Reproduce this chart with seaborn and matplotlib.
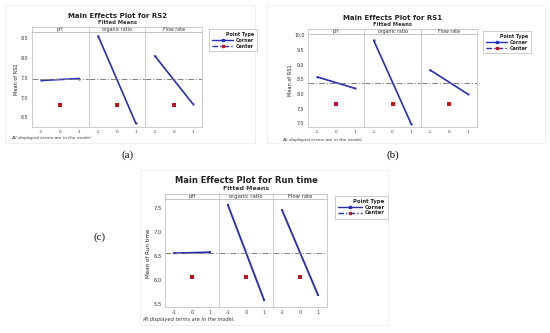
import matplotlib
matplotlib.use("Agg")
import matplotlib.pyplot as plt
from matplotlib.lines import Line2D
from matplotlib.patches import Rectangle
import seaborn as sns
import pandas as pd

sns.set_style("white")
plt.rcParams['font.family'] = ['DejaVu Sans']

# ---- data ----
factors = ["pH", "organic ratio", "Flow rate"]
levels = [-1, 1]
center_level = 0

rs2_corner = {"pH": [7.43, 7.48], "organic ratio": [8.55, 6.35], "Flow rate": [8.05, 6.85]}
rs2_center = 6.82
rs2_mean = 7.47

rs1_corner = {"pH": [8.58, 8.19], "organic ratio": [9.83, 6.97], "Flow rate": [8.82, 8.00]}
rs1_center = 7.64
rs1_mean = 8.39

rt_corner = {"pH": [6.55, 6.57], "organic ratio": [7.55, 5.58], "Flow rate": [7.45, 5.68]}
rt_center = 6.05
rt_mean = 6.56

xtick_labels = ["-1", "0", "1"]

BLUE = "#2430B8"
RED = "#C0141C"
GRAY = "#808080"

W, H = 550, 333
fig = plt.figure(figsize=(W / 100, H / 100), dpi=100)
fig.patch.set_facecolor("white")


def fx(x):
    return x / W


def fy(y):
    return 1 - y / H


def panel(box, left, right, top, bottom, strip, title, title_fs, ylabel, corner, center, mean,
          ylim, yticks, legend_box, footnote_xy, ylabel_x, sc=1.0):
    bx0, by0, bx1, by1 = box
    fig.patches.append(Rectangle((fx(bx0), fy(by1)), fx(bx1 - bx0), (by1 - by0) / H,
                                 transform=fig.transFigure, fill=False,
                                 edgecolor="#ededed", lw=0.6))
    cx = (left + right) / 2
    fig.text(fx(cx), fy(top - strip - title_fs * 2.3), title, ha="center", va="center",
             fontsize=title_fs, fontweight="bold", color="#222222")
    fig.text(fx(cx), fy(top - strip - title_fs * 0.95), "Fitted Means", ha="center", va="center",
             fontsize=title_fs * 0.75, fontweight="bold", color="#333333")
    pw = (right - left) / 3
    for i, f in enumerate(factors):
        x0 = left + i * pw
        ax = fig.add_axes([fx(x0), fy(bottom), fx(pw), (bottom - top) / H])
        df = pd.DataFrame({"level": levels, "mean": corner[f]})
        sns.lineplot(data=df, x="level", y="mean", ax=ax, color=BLUE, lw=1.2 * sc,
                     marker="s", markersize=1.4 * sc, markeredgewidth=0)
        sns.scatterplot(x=[center_level], y=[center], ax=ax, color=RED, marker="s",
                        s=5.5 * sc, linewidth=0)
        ax.axhline(mean, color=GRAY, lw=0.7, ls=(0, (6, 2, 1, 2)))
        ax.set_xlim(-1.5, 1.5)
        ax.set_ylim(*ylim)
        ax.set_xticks([-1, 0, 1])
        ax.set_xticklabels(xtick_labels, fontsize=3.2 * sc, color="#333333")
        ax.set_yticks(yticks)
        ax.set_xlabel("")
        ax.set_ylabel("")
        ax.tick_params(length=1, width=0.4, pad=1.5, colors="#444444")
        if i == 0:
            ax.set_yticklabels([f"{v:.1f}" for v in yticks], fontsize=3.4 * sc, color="#333333")
        else:
            ax.set_yticklabels([])
            ax.tick_params(axis="y", length=0)
        for s in ax.spines.values():
            s.set_color("#c4c4c4")
            s.set_linewidth(0.6)
        sax = fig.add_axes([fx(x0), fy(top), fx(pw), strip / H])
        sax.set_xticks([])
        sax.set_yticks([])
        sax.set_facecolor("white")
        for s in sax.spines.values():
            s.set_color("#c4c4c4")
            s.set_linewidth(0.6)
        sax.text(0.5, 0.5, f, ha="center", va="center", fontsize=3.4 * sc, color="#333333",
                 transform=sax.transAxes)
    fig.text(fx(ylabel_x), fy((top + bottom) / 2), ylabel, rotation=90, ha="center",
             va="center", fontsize=3.6 * sc, color="#222222")
    fig.text(fx(footnote_xy[0]), fy(footnote_xy[1]), "All displayed terms are in the model.",
             fontsize=3.2 * sc, style="italic", color="#333333", va="center")
    handles = [Line2D([], [], color=BLUE, lw=1.0, marker="s", markersize=1.5,
                      label="Corner"),
               Line2D([], [], color=BLUE, lw=1.0, ls=(0, (4, 1.5, 1, 1.5)), marker="s",
                      markersize=2, markerfacecolor=RED, markeredgecolor=RED, label="Center")]
    lx, ly = legend_box
    leg = fig.legend(handles=handles, title="Point Type", loc="upper left",
                     bbox_to_anchor=(fx(lx), fy(ly)), fontsize=3.4 * sc, title_fontsize=3.4 * sc,
                     frameon=True, fancybox=False, edgecolor="#c4c4c4", framealpha=1,
                     handlelength=4.5, borderpad=0.6, labelspacing=0.15, handletextpad=0.5,
                     alignment="right")
    leg.get_frame().set_linewidth(0.6)
    leg.get_title().set_fontweight("bold")
    leg.get_title().set_color("#222222")
    for t in leg.get_texts():
        t.set_fontweight("bold")
        t.set_color("#222222")


panel((5, 5, 255, 143), 32, 202, 32, 127, 5, "Main Effects Plot for RS2", 5.0, "Mean of RS2",
      rs2_corner, rs2_center, rs2_mean, (6.26, 8.65), [6.5, 7.0, 7.5, 8.0, 8.5],
      (207, 27), (11, 138), 16)
panel((267, 5, 545, 143), 308, 477, 34, 127, 5, "Main Effects Plot for RS1", 5.0, "Mean of RS1",
      rs1_corner, rs1_center, rs1_mean, (6.87, 10.05), [7.0, 7.5, 8.0, 8.5, 9.0, 9.5, 10.0],
      (481, 29), (282, 140), 291)
panel((140, 170, 388, 325), 165, 327, 199, 307, 5, "Main Effects Plot for Run time", 6.0,
      "Mean of Run time", rt_corner, rt_center, rt_mean, (5.43, 7.68),
      [5.5, 6.0, 6.5, 7.0, 7.5], (332, 193), (142, 320), 148, sc=1.12)

cap = dict(fontsize=8, family="Liberation Serif", ha="center", va="center", color="#111111")
fig.text(fx(128), fy(155), "(a)", **cap)
fig.text(fx(393), fy(155), "(b)", **cap)
fig.text(fx(100), fy(237), "(c)", **cap)

fig.savefig("out.png", dpi=100, facecolor="white")
